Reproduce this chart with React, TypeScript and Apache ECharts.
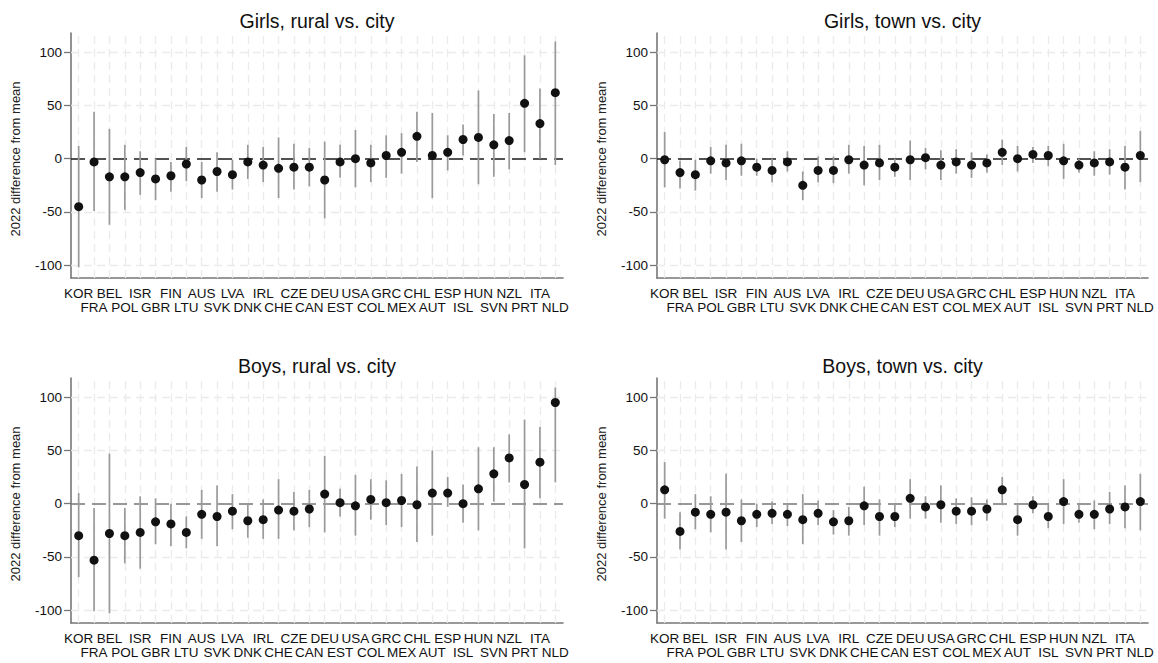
import React, { useEffect, useRef } from "react";
import * as echarts from "echarts";

const countries = ["KOR","FRA","BEL","POL","ISR","GBR","FIN","LTU","AUS","SVK","LVA","DNK","IRL","CHE","CZE","CAN","DEU","EST","USA","COL","GRC","MEX","CHL","AUT","ESP","ISL","HUN","SVN","NZL","PRT","ITA","NLD"];

const yTicks = [-100, -50, 0, 50, 100];
const yGridValues = [-100, -50, 50, 100];

const panelTitles = ["Girls, rural vs. city", "Girls, town vs. city", "Boys, rural vs. city", "Boys, town vs. city"];
const yAxisTitle = "2022 difference from mean";

// Girls, rural vs. city
const girlsRuralEst = [-45,-3,-17,-17,-13,-19,-16,-5,-20,-12,-15,-3,-6,-9,-8,-8,-20,-3,0,-4,3,6,21,3,6,18,20,13,17,52,33,62];
const girlsRuralLo = [-102,-49,-62,-48,-34,-39,-31,-21,-37,-31,-29,-19,-22,-37,-29,-26,-56,-18,-27,-22,-18,-14,-3,-37,-11,3,-24,-17,-10,6,0,-6];
const girlsRuralHi = [12,44,28,13,7,0,-3,11,-3,6,-1,13,11,20,14,10,16,13,27,13,22,24,44,43,22,32,64,42,43,97,66,110];

// Girls, town vs. city
const girlsTownEst = [-1,-13,-15,-2,-4,-2,-8,-11,-3,-25,-11,-11,-1,-6,-4,-8,-1,1,-6,-3,-6,-4,6,0,4,3,-2,-6,-4,-3,-8,3];
const girlsTownLo = [-27,-28,-30,-14,-20,-16,-16,-22,-12,-39,-22,-23,-14,-25,-20,-17,-20,-10,-20,-14,-18,-13,-6,-12,-4,-7,-19,-13,-16,-15,-29,-22];
const girlsTownHi = [25,-2,-1,11,13,14,0,0,7,-12,2,2,13,12,13,0,17,10,8,9,6,4,18,12,11,12,14,0,7,9,12,26];

// Boys, rural vs. city
const boysRuralEst = [-30,-53,-28,-30,-27,-17,-19,-27,-10,-12,-7,-16,-15,-6,-7,-5,9,1,-2,4,1,3,-1,10,10,0,14,28,43,18,39,95];
const boysRuralLo = [-69,-101,-103,-56,-61,-38,-40,-42,-33,-40,-24,-32,-33,-33,-25,-22,-27,-12,-30,-15,-20,-22,-36,-30,-3,-18,-25,2,20,-42,5,20];
const boysRuralHi = [10,-4,47,-4,7,5,0,-12,13,17,9,0,4,23,11,13,45,14,27,23,22,28,35,50,25,18,53,53,65,79,72,109];

// Boys, town vs. city
const boysTownEst = [13,-26,-8,-10,-8,-16,-10,-9,-10,-15,-9,-17,-16,-2,-12,-12,5,-3,-1,-7,-7,-5,13,-15,-1,-12,2,-10,-10,-5,-3,2];
const boysTownLo = [-14,-43,-24,-27,-43,-36,-22,-19,-21,-38,-20,-29,-30,-20,-30,-22,-14,-14,-18,-19,-20,-16,0,-30,-9,-23,-19,-18,-24,-19,-23,-25];
const boysTownHi = [39,-8,9,7,28,4,0,2,0,9,3,-6,-3,16,4,0,23,7,17,5,6,4,25,0,7,0,23,0,3,11,17,28];

const panels = [
  { est: girlsRuralEst, lo: girlsRuralLo, hi: girlsRuralHi, zeroColor: "#1a1a1a" },
  { est: girlsTownEst, lo: girlsTownLo, hi: girlsTownHi, zeroColor: "#1a1a1a" },
  { est: boysRuralEst, lo: boysRuralLo, hi: boysRuralHi, zeroColor: "#777777" },
  { est: boysTownEst, lo: boysTownLo, hi: boysTownHi, zeroColor: "#777777" },
];

const FONT = "'Liberation Sans', Arial, Helvetica, sans-serif";

const grids = [
  { left: 71, top: 33, width: 492, height: 245 },
  { left: 657, top: 33, width: 491, height: 245 },
  { left: 71, top: 378, width: 492, height: 245 },
  { left: 657, top: 378, width: 491, height: 245 },
];

export default function App() {
  const ref = useRef<HTMLDivElement>(null);

  useEffect(() => {
    if (!ref.current) return;
    const chart = echarts.init(ref.current, undefined, { renderer: "svg" });

    const xAxes: any[] = [];
    const yAxes: any[] = [];
    const series: any[] = [];
    const graphics: any[] = [];

    panels.forEach((p, gi) => {
      const g = grids[gi];
      xAxes.push({
        gridIndex: gi,
        type: "category",
        data: countries,
        boundaryGap: true,
        axisLine: { onZero: false, lineStyle: { color: "#777", width: 1.6 } },
        axisTick: { alignWithLabel: true, length: 5, lineStyle: { color: "#777", width: 1.3 } },
        axisLabel: {
          interval: 0,
          margin: 8,
          fontSize: 13.5,
          lineHeight: 14,
          color: "#111",
          fontFamily: FONT,
          formatter: (v: string, i: number) => (i % 2 === 1 ? "\n" + v : v),
        },
        splitLine: { show: false },
      });
      yAxes.push({
        gridIndex: gi,
        type: "value",
        min: -112,
        max: 118,
        axisLine: { show: true, lineStyle: { color: "#777", width: 1.6 } },
        axisTick: { show: true, length: 7, customValues: yTicks, lineStyle: { color: "#777", width: 1.3 } },
        axisLabel: { customValues: yTicks, margin: 9, fontSize: 13.5, color: "#111", fontFamily: FONT },
        splitLine: { show: false },
      });

      // grid lines and zero reference line
      series.push({
        type: "line",
        xAxisIndex: gi,
        yAxisIndex: gi,
        data: [],
        z: 1,
        silent: true,
        markLine: {
          z: 1,
          silent: true,
          symbol: ["none", "none"],
          label: { show: false },
          data: [
            ...countries.map((c) => ({ xAxis: c, lineStyle: { color: "#ebebeb", width: 1.3, type: [8, 5] } })),
            ...yGridValues.map((v) => ({ yAxis: v, lineStyle: { color: "#ebebeb", width: 1.3, type: [8, 5] } })),
            { yAxis: 0, lineStyle: { color: p.zeroColor, width: 1.7, type: [14, 7] } },
          ],
        },
      });

      // confidence intervals
      series.push({
        type: "custom",
        xAxisIndex: gi,
        yAxisIndex: gi,
        z: 2,
        silent: true,
        encode: { x: 0, y: [1, 2] },
        data: countries.map((c, i) => [i, p.lo[i], p.hi[i]]),
        renderItem: (params: any, api: any) => {
          const x = api.value(0);
          const a = api.coord([x, api.value(1)]);
          const b = api.coord([x, api.value(2)]);
          return {
            type: "line",
            shape: { x1: a[0], y1: a[1], x2: b[0], y2: b[1] },
            style: { stroke: "#9a9a9a", lineWidth: 1.7 },
          };
        },
      });

      // point estimates
      series.push({
        type: "scatter",
        xAxisIndex: gi,
        yAxisIndex: gi,
        z: 3,
        symbol: "circle",
        symbolSize: 9,
        itemStyle: { color: "#111", opacity: 1 },
        data: countries.map((c, i) => [i, p.est[i]]),
      });

      graphics.push({
        type: "text",
        x: g.left + g.width / 2,
        y: g.top - 12.5,
        style: {
          text: panelTitles[gi],
          align: "center",
          verticalAlign: "middle",
          fontSize: 19.5,
          fontFamily: FONT,
          fill: "#111",
        },
      });
      graphics.push({
        type: "text",
        x: g.left - 56,
        y: g.top + 126,
        rotation: Math.PI / 2,
        style: {
          text: yAxisTitle,
          align: "center",
          verticalAlign: "middle",
          fontSize: 13,
          fontFamily: FONT,
          fill: "#222",
        },
      });
    });

    chart.setOption({
      animation: false,
      backgroundColor: "#ffffff",
      grid: grids.map((g) => ({ ...g, containLabel: false })),
      xAxis: xAxes,
      yAxis: yAxes,
      series,
      graphic: graphics,
    });

    return () => chart.dispose();
  }, []);

  return (
    <div
      ref={ref}
      style={{ position: "absolute", left: 0, top: 0, width: 1158, height: 663, background: "#fff" }}
    />
  );
}
